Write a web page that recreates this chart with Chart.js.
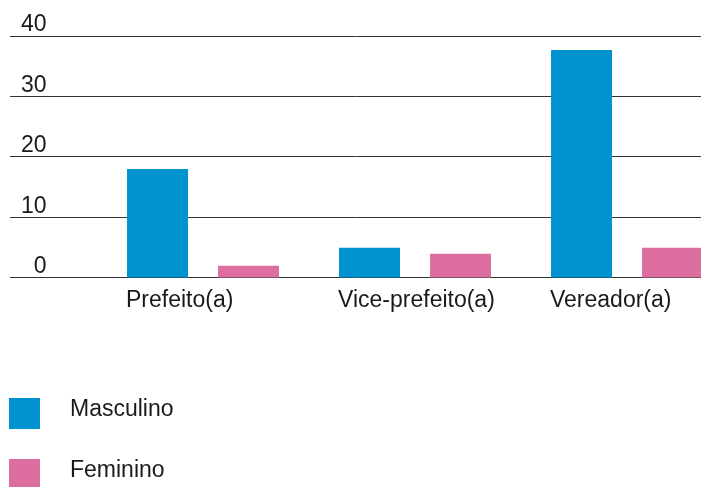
<!DOCTYPE html>
<html><head><meta charset="utf-8">
<script src="https://cdn.jsdelivr.net/npm/chart.js@4.4.1/dist/chart.umd.min.js"></script>
<style>
html,body{margin:0;padding:0;background:#fff;overflow:hidden;}
#wrap{position:relative;width:701px;height:487px;}
#c{position:absolute;left:0;top:0;}
.li{position:absolute;left:9px;width:300px;height:31px;}
.sw{position:absolute;left:0;top:0;width:31px;height:31px;}
.tx{position:absolute;left:61px;top:-1px;font:23px/23px "Liberation Sans",Arial,sans-serif;color:#1a1a1a;white-space:nowrap;}
</style></head>
<body><div id="wrap"><canvas id="c" width="701" height="487"></canvas><div id="legend"></div></div>
<script>
const categories = ['Prefeito(a)', 'Vice-prefeito(a)', 'Vereador(a)'];
const masculino = [18, 5, 37.7];
const feminino = [2, 4, 5];
const yTickValues = [0, 10, 20, 30, 40];
const seriesNames = ['Masculino', 'Feminino'];
const seriesColors = ['#0093d0', '#dc6fa0'];

Chart.defaults.font.family = '"Liberation Sans", Arial, Helvetica, sans-serif';
Chart.defaults.font.size = 23;
Chart.defaults.color = '#1a1a1a';

const toPoints = arr => arr.map((v, i) => ({x: i, y: v}));

const chart = new Chart(document.getElementById('c'), {
  type: 'bar',
  data: {
    datasets: [
      {label: seriesNames[0], data: toPoints(masculino), backgroundColor: seriesColors[0], categoryPercentage: 0.8585, barPercentage: 0.67},
      {label: seriesNames[1], data: toPoints(feminino), backgroundColor: seriesColors[1], categoryPercentage: 0.8585, barPercentage: 0.67}
    ]
  },
  options: {
    responsive: false,
    animation: false,
    events: [],
    layout: {padding: {top: 36, left: 0, right: 0, bottom: 163.5}},
    plugins: {legend: {display: false}, tooltip: {enabled: false}},
    scales: {
      x: {
        type: 'linear',
        bounds: 'data',
        offset: false,
        min: -0.9104,
        max: 2.349,
        grid: {display: false, drawTicks: false},
        border: {display: false},
        afterBuildTicks: s => { s.ticks = categories.map((c, i) => ({value: i})); },
        afterFit: s => { s.paddingLeft = 0; s.paddingRight = 0; },
        ticks: {
          autoSkip: false,
          maxRotation: 0,
          minRotation: 0,
          align: 'start',
          labelOffset: -77,
          padding: 9,
          callback: v => categories[v]
        }
      },
      y: {
        min: 0,
        max: 40,
        afterBuildTicks: s => { s.ticks = yTickValues.map(v => ({value: v})); },
        afterFit: s => { s.width = 10; },
        border: {display: false},
        grid: {color: '#333333', lineWidth: 1, drawTicks: false},
        ticks: {
          mirror: true,
          crossAlign: 'far',
          padding: 11,
          labelOffset: -11,
          callback: v => String(v)
        }
      }
    }
  }
});

const legendEl = document.getElementById('legend');
const legendTops = [398, 459];
chart.data.datasets.forEach((ds, i) => {
  const li = document.createElement('div');
  li.className = 'li';
  li.style.top = legendTops[i] + 'px';
  const sw = document.createElement('div');
  sw.className = 'sw';
  sw.style.background = ds.backgroundColor;
  const tx = document.createElement('div');
  tx.className = 'tx';
  tx.textContent = ds.label;
  li.appendChild(sw); li.appendChild(tx);
  legendEl.appendChild(li);
});
</script>
</body></html>
